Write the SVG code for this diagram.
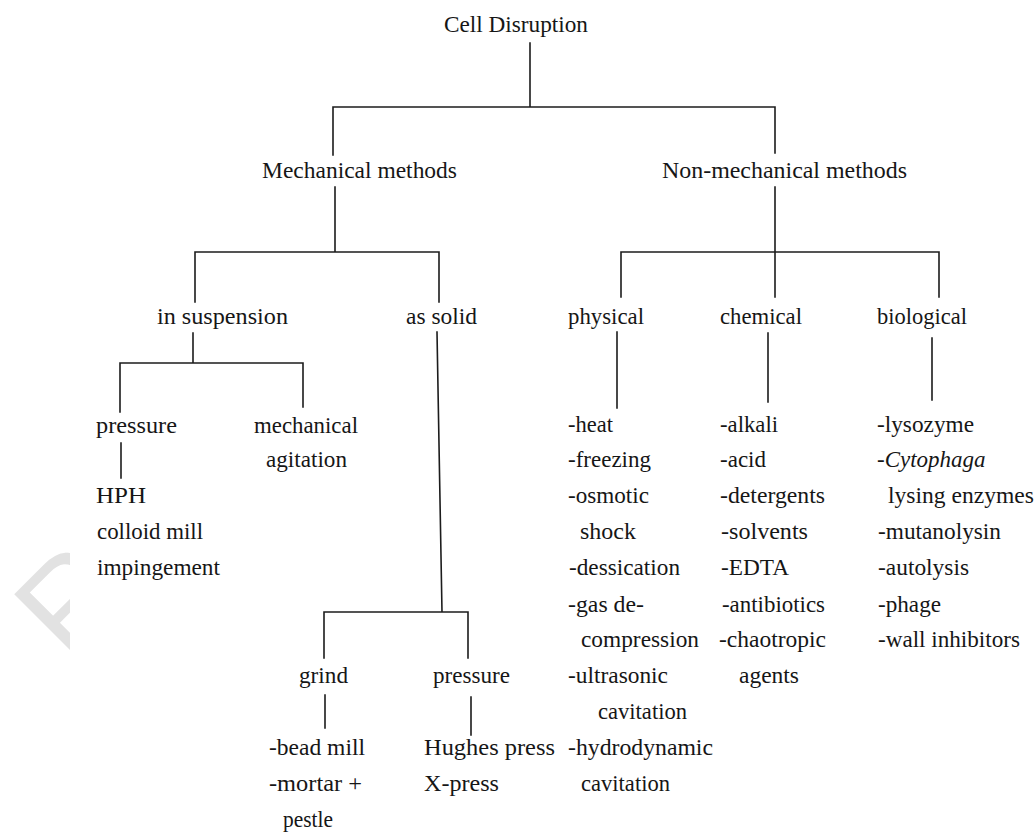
<svg xmlns="http://www.w3.org/2000/svg" width="1036" height="832" viewBox="0 0 1036 832">
<style>
  .t { font-family: "Liberation Serif", "Times New Roman", serif; font-size: 23px; fill: #161616; }
  .i { font-style: italic; }
  .ln { stroke: #1c1c1c; stroke-width: 1.6; fill: none; stroke-linecap: square; }
  .wm { font-family: "Liberation Sans", Arial, sans-serif; font-size: 130px; fill: #e2e2e2; }
</style>
<defs>
  <clipPath id="wmclip"><rect x="0" y="0" width="70" height="832"/></clipPath>
</defs>
<rect width="1036" height="832" fill="#ffffff"/>
<g id="watermark" clip-path="url(#wmclip)">
  <text class="wm" transform="translate(70,665) rotate(-45)">R</text>
</g>
<g id="connectors" class="ln">
  <path d="M530,43 V107 M333,107 H775 M333,107 V155 M775,107 V153"/>
  <path d="M335,187 V252 M195,252 H439 M195,252 V302 M439,252 V302"/>
  <path d="M775,187 V297 M621,252 H939 M621,252 V297 M939,252 V297"/>
  <path d="M193,333 V363 M120,363 H303 M120,363 V412 M303,363 V407"/>
  <path d="M121,443 V478"/>
  <path d="M437,332 L442,612 M324,612 H468 M324,612 V658 M468,612 V658"/>
  <path d="M325,695 V728 M471,697 V735"/>
  <path d="M617,332 V408 M768,333 V402 M932,338 V400"/>
</g>
<g id="root"><text class="t" x="444" y="32" textLength="144" lengthAdjust="spacingAndGlyphs">Cell Disruption</text></g>
<g id="mechanical"><text class="t" x="262" y="178" textLength="195" lengthAdjust="spacingAndGlyphs">Mechanical methods</text></g>
<g id="nonmechanical"><text class="t" x="662" y="178" textLength="245" lengthAdjust="spacingAndGlyphs">Non-mechanical methods</text></g>
<g id="suspension"><text class="t" x="157" y="324" textLength="131" lengthAdjust="spacingAndGlyphs">in suspension</text></g>
<g id="solid"><text class="t" x="406" y="324" textLength="71" lengthAdjust="spacingAndGlyphs">as solid</text></g>
<g id="physical"><text class="t" x="568" y="324" textLength="76" lengthAdjust="spacingAndGlyphs">physical</text></g>
<g id="chemical"><text class="t" x="720" y="324" textLength="82" lengthAdjust="spacingAndGlyphs">chemical</text></g>
<g id="biological"><text class="t" x="877" y="324" textLength="90" lengthAdjust="spacingAndGlyphs">biological</text></g>
<g id="pressure1"><text class="t" x="96" y="433" textLength="81" lengthAdjust="spacingAndGlyphs">pressure</text></g>
<g id="agitation">
  <text class="t" x="254" y="433" textLength="104" lengthAdjust="spacingAndGlyphs">mechanical</text>
  <text class="t" x="266" y="467" textLength="81" lengthAdjust="spacingAndGlyphs">agitation</text>
</g>
<g id="pressure1-list">
  <text class="t" x="96" y="503" textLength="50" lengthAdjust="spacingAndGlyphs">HPH</text>
  <text class="t" x="97" y="539" textLength="106" lengthAdjust="spacingAndGlyphs">colloid mill</text>
  <text class="t" x="97" y="575" textLength="123" lengthAdjust="spacingAndGlyphs">impingement</text>
</g>
<g id="physical-list">
  <text class="t" x="568" y="432" textLength="45" lengthAdjust="spacingAndGlyphs">-heat</text>
  <text class="t" x="568" y="467" textLength="83" lengthAdjust="spacingAndGlyphs">-freezing</text>
  <text class="t" x="568" y="503" textLength="81" lengthAdjust="spacingAndGlyphs">-osmotic</text>
  <text class="t" x="580" y="539" textLength="56" lengthAdjust="spacingAndGlyphs">shock</text>
  <text class="t" x="569" y="575" textLength="111" lengthAdjust="spacingAndGlyphs">-dessication</text>
  <text class="t" x="568" y="612" textLength="76" lengthAdjust="spacingAndGlyphs">-gas de-</text>
  <text class="t" x="581" y="647" textLength="118" lengthAdjust="spacingAndGlyphs">compression</text>
  <text class="t" x="568" y="683" textLength="100" lengthAdjust="spacingAndGlyphs">-ultrasonic</text>
  <text class="t" x="598" y="719" textLength="89" lengthAdjust="spacingAndGlyphs">cavitation</text>
  <text class="t" x="568" y="755" textLength="145" lengthAdjust="spacingAndGlyphs">-hydrodynamic</text>
  <text class="t" x="581" y="791" textLength="89" lengthAdjust="spacingAndGlyphs">cavitation</text>
</g>
<g id="chemical-list">
  <text class="t" x="720" y="432" textLength="58" lengthAdjust="spacingAndGlyphs">-alkali</text>
  <text class="t" x="720" y="467" textLength="46" lengthAdjust="spacingAndGlyphs">-acid</text>
  <text class="t" x="720" y="503" textLength="105" lengthAdjust="spacingAndGlyphs">-detergents</text>
  <text class="t" x="721" y="539" textLength="87" lengthAdjust="spacingAndGlyphs">-solvents</text>
  <text class="t" x="721" y="575" textLength="68" lengthAdjust="spacingAndGlyphs">-EDTA</text>
  <text class="t" x="722" y="612" textLength="103" lengthAdjust="spacingAndGlyphs">-antibiotics</text>
  <text class="t" x="719" y="647" textLength="107" lengthAdjust="spacingAndGlyphs">-chaotropic</text>
  <text class="t" x="739" y="683" textLength="60" lengthAdjust="spacingAndGlyphs">agents</text>
</g>
<g id="biological-list">
  <text class="t" x="877" y="432" textLength="97" lengthAdjust="spacingAndGlyphs">-lysozyme</text>
  <text class="t" x="877" y="467">-<tspan class="i">Cytophaga</tspan></text>
  <text class="t" x="888" y="503" textLength="146" lengthAdjust="spacingAndGlyphs">lysing enzymes</text>
  <text class="t" x="878" y="539" textLength="123" lengthAdjust="spacingAndGlyphs">-mutanolysin</text>
  <text class="t" x="878" y="575" textLength="91" lengthAdjust="spacingAndGlyphs">-autolysis</text>
  <text class="t" x="878" y="612" textLength="63" lengthAdjust="spacingAndGlyphs">-phage</text>
  <text class="t" x="878" y="647" textLength="142" lengthAdjust="spacingAndGlyphs">-wall inhibitors</text>
</g>
<g id="grind"><text class="t" x="299" y="683" textLength="49" lengthAdjust="spacingAndGlyphs">grind</text></g>
<g id="pressure2"><text class="t" x="433" y="683" textLength="77" lengthAdjust="spacingAndGlyphs">pressure</text></g>
<g id="grind-list">
  <text class="t" x="269" y="755" textLength="96" lengthAdjust="spacingAndGlyphs">-bead mill</text>
  <text class="t" x="269" y="791" textLength="93" lengthAdjust="spacingAndGlyphs">-mortar +</text>
  <text class="t" x="283" y="827" textLength="50" lengthAdjust="spacingAndGlyphs">pestle</text>
</g>
<g id="pressure2-list">
  <text class="t" x="424" y="755" textLength="131" lengthAdjust="spacingAndGlyphs">Hughes press</text>
  <text class="t" x="424" y="791" textLength="75" lengthAdjust="spacingAndGlyphs">X-press</text>
</g>
</svg>
